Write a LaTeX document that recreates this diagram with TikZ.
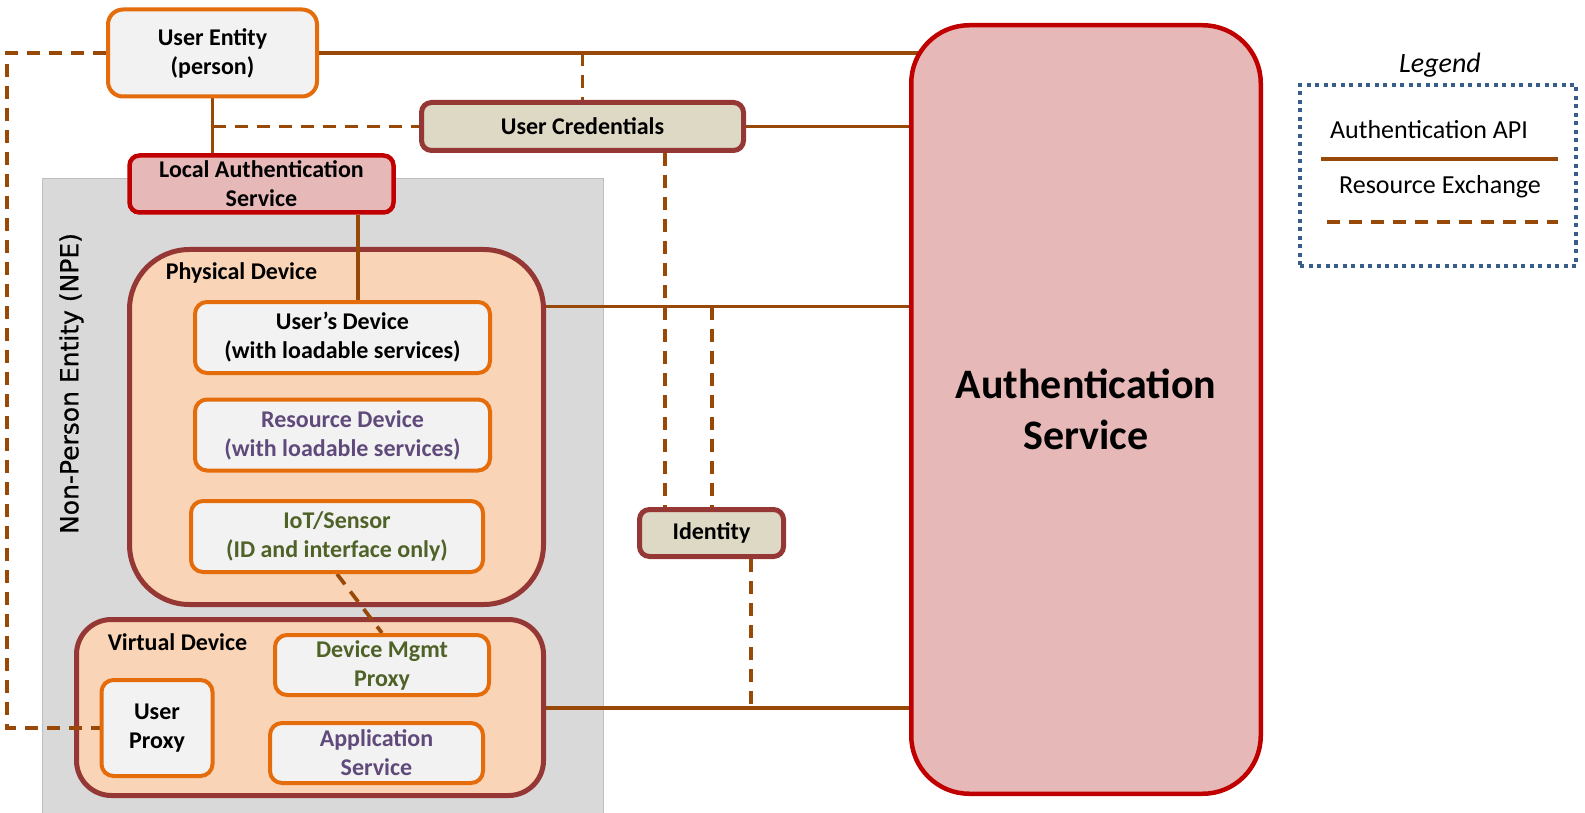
\documentclass[tikz,border=0pt]{standalone}
\usepackage{fontspec}
\setmainfont{Carlito}
\newfontfamily\npefont[FakeBold=0.6]{DejaVu Sans}
\pgfdeclarelayer{bg}
\pgfdeclarelayer{lines}
\pgfsetlayers{bg,lines,main}
\definecolor{orangeB}{HTML}{E46C0A}
\definecolor{boxfill}{HTML}{F2F2F2}
\definecolor{darkred}{HTML}{953735}
\definecolor{peach}{HTML}{F9D4B6}
\definecolor{pinkF}{HTML}{E6B8B7}
\definecolor{redB}{HTML}{C00000}
\definecolor{tanF}{HTML}{DDD9C4}
\definecolor{grayBg}{HTML}{D9D9D9}
\definecolor{grayLn}{HTML}{BFBFBF}
\definecolor{conn}{HTML}{984807}
\definecolor{purp}{HTML}{604A7B}
\definecolor{grn}{HTML}{4F6228}
\definecolor{legB}{HTML}{385D8A}
\tikzset{
  base/.style={rectangle, align=center, inner sep=0pt, font=\fontsize{24}{29}\selectfont\bfseries},
  devbox/.style={base, draw=orangeB, fill=boxfill, line width=4pt, rounded corners=12pt},
  credbox/.style={base, draw=darkred, fill=tanF, line width=5pt, rounded corners=10pt},
  authbox/.style={base, draw=redB, fill=pinkF, line width=4.5pt},
  container/.style={rectangle, inner sep=0pt, draw=darkred, fill=peach, line width=5pt},
  api/.style={draw=conn, line width=3.7pt},
  rex/.style={draw=conn, line width=3.7pt, dash pattern=on 13pt off 9pt},
  legtext/.style={font=\fontsize{26}{30}\selectfont, inner sep=0pt},
}
\begin{document}
\begin{tikzpicture}[x=1pt, y=-1pt]
\useasboundingbox (0,0) rectangle (1585,813);

% containers (background layer)
\begin{pgfonlayer}{bg}
  \fill[grayBg, draw=grayLn, line width=1pt] (42.5,179) rectangle (603,816);
  \node[container, rounded corners=60pt, minimum width=414pt, minimum height=355pt] (pd) at (336.5,427) {};
  \node[container, rounded corners=35pt, minimum width=467pt, minimum height=176pt] (vd) at (310,707.5) {};
\end{pgfonlayer}

% labels
\node[base] (pdlab) at (241.5,273) {Physical Device};
\node[base] (vdlab) at (177.5,642) {Virtual Device};
\node[rotate=90, inner sep=0pt, font=\npefont\fontsize{25}{29}\selectfont] (npe) at (71.5,383.5) {Non-Person Entity (NPE)};

% boxes
\node[devbox, rounded corners=15pt, minimum width=209pt, minimum height=87pt] (ue) at (212.5,53) {User Entity\\(person)};
\node[credbox, minimum width=322pt, minimum height=48pt] (uc) at (582.5,126.5) {User Credentials};
\node[authbox, rounded corners=10pt, minimum width=264pt, minimum height=57pt] (las) at (261.5,184) {Local Authentication\\Service};
\node[devbox, minimum width=295pt, minimum height=71pt] (ud) at (342.5,337.5) {User's Device\\(with loadable services)};
\node[devbox, text=purp, minimum width=295pt, minimum height=71pt] (rd) at (342.5,435) {Resource Device\\(with loadable services)};
\node[devbox, text=grn, minimum width=292pt, minimum height=71pt] (iot) at (337,536.5) {IoT/Sensor\\(ID and interface only)};
\node[devbox, text=grn, minimum width=214pt, minimum height=60pt] (dmp) at (382,665) {Device Mgmt\\Proxy};
\node[devbox, minimum width=111pt, minimum height=96pt] (up) at (157,728) {User\\Proxy};
\node[devbox, text=purp, minimum width=213pt, minimum height=60pt] (as) at (376.5,753) {Application\\Service};
\node[credbox, minimum width=144pt, minimum height=47pt] (id) at (711.5,533) {Identity};
\node[authbox, rounded corners=58pt, minimum width=349.5pt, minimum height=768.5pt,
      font=\fontsize{42}{51}\selectfont\bfseries] (auth) at (1086,409.5) {Authentication\\Service};

% helper coordinates
\coordinate (lx) at (7,0);
\coordinate (lasx) at (358,0);
\coordinate (ucx) at (665,0);
\coordinate (pdj) at (712,306.5);
\coordinate (vdj) at (751,708);

% connectors
\begin{pgfonlayer}{lines}
  \draw[api] (ue.east) -- (ue.east -| auth.center);
  \draw[api] (ue.south) -- (ue.south |- las.north);
  \draw[api] (uc.east) -- (uc.east -| auth.center);
  \draw[api] (lasx |- las.south) -- (lasx |- ud.north);
  \draw[api] (pd.east |- pdj) -- (pdj -| auth.center);
  \draw[api] (vd.east |- vdj) -- (vdj -| auth.center);

  \draw[rex] (ue.west) -- (ue.west -| lx) -- (lx |- up.west) -- (up.west);
  \draw[rex] (ue.south |- uc.west) -- (uc.west);
  \draw[rex] (uc.north |- ue.east) -- (uc.north);
  \draw[rex] (ucx |- uc.south) -- (ucx |- id.north);
  \draw[rex] (pdj) -- (pdj |- id.north);
  \draw[rex] (vdj |- id.south) -- (vdj);
  \draw[rex] (iot.south) -- (dmp.north);
\end{pgfonlayer}

% legend
\node[font=\fontsize{28}{32}\selectfont\itshape, inner sep=0pt] (legt) at (1440,65) {Legend};
\node[draw=legB, line width=4pt, dash pattern=on 4pt off 4.5pt, minimum width=276pt, minimum height=181pt, inner sep=0pt] (leg) at (1438,175.5) {};
\node[legtext] (l1) at (1429,130) {Authentication API};
\node[legtext] (l2) at (1440,187) {Resource Exchange};
\coordinate (l1a) at (1321,159);
\coordinate (l1b) at (1558,159);
\coordinate (l2a) at (1327,222);
\coordinate (l2b) at (1558,222);
\draw[api] (l1a) -- (l1b);
\draw[rex] (l2a) -- (l2b);
\end{tikzpicture}
\end{document}
